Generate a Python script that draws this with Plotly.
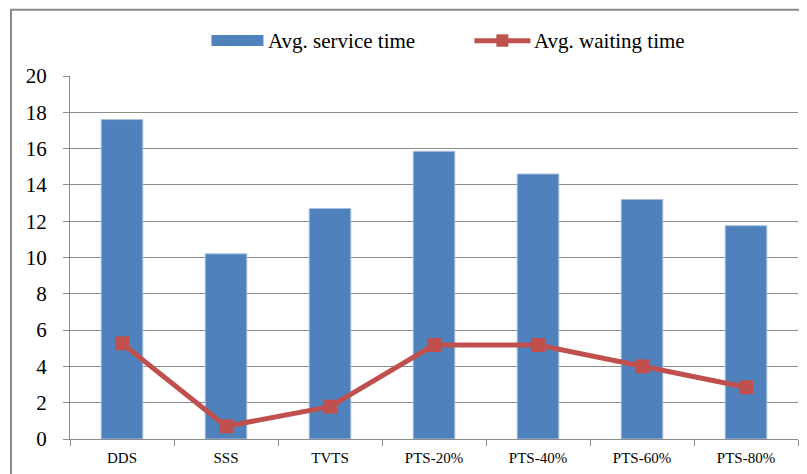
import plotly.graph_objects as go

categories = ["DDS", "SSS", "TVTS", "PTS-20%", "PTS-40%", "PTS-60%", "PTS-80%"]
service_time = [17.6, 10.2, 12.7, 15.85, 14.6, 13.2, 11.75]
waiting_time = [5.27, 0.7, 1.78, 5.18, 5.18, 4.0, 2.85]
y_ticks = list(range(0, 21, 2))

BLUE = "#4F81BD"
RED = "#C0504D"
GRID = "#8C8C8C"
FONT = "Times New Roman, Liberation Serif, DejaVu Serif, serif"

OFF = 8  # page body margin in the browser
W, H = 807 - OFF, 474 - OFF
# plot area in reference-screen pixels
X0, X1, Y0, Y1 = 69.5, 797.7, 76.0, 439.3
L, R, T, B = X0 - OFF, 807 - X1, Y0 - OFF, 474 - Y1
pw, ph = X1 - X0, Y1 - Y0

def px(x):
    return (x - X0) / pw

def py(y):
    return (Y1 - y) / ph

fig = go.Figure()
fig.add_trace(go.Bar(
    x=categories, y=service_time, name="Avg. service time",
    marker=dict(color=BLUE, line=dict(color="#A7BFDE", width=1)),
    width=0.4, showlegend=False,
))
fig.add_trace(go.Scatter(
    x=categories, y=waiting_time, name="Avg. waiting time",
    mode="lines+markers",
    line=dict(color=RED, width=5),
    marker=dict(symbol="square", size=14, color=RED),
    showlegend=False,
))

shapes = [
    # outer chart frame
    dict(type="rect", xref="paper", yref="paper",
         x0=px(10.5), x1=px(830), y0=py(500), y1=py(9.8),
         line=dict(color="#8A8A8A", width=2), fillcolor="rgba(0,0,0,0)", layer="below"),
    # legend: bar swatch
    dict(type="rect", xref="paper", yref="paper",
         x0=px(211), x1=px(263), y0=py(46), y1=py(35),
         line=dict(width=0), fillcolor=BLUE),
    # legend: line swatch
    dict(type="line", xref="paper", yref="paper",
         x0=px(474), x1=px(530), y0=py(40.7), y1=py(40.7),
         line=dict(color=RED, width=5)),
    dict(type="rect", xref="paper", yref="paper",
         x0=px(496), x1=px(508), y0=py(46.7), y1=py(34.3),
         line=dict(width=0), fillcolor=RED),
]

annotations = [
    dict(text="Avg. service time", xref="paper", yref="paper",
         x=px(266), y=py(40.5), xanchor="left", yanchor="middle",
         showarrow=False, font=dict(family=FONT, size=21, color="#000")),
    dict(text="Avg. waiting time", xref="paper", yref="paper",
         x=px(532), y=py(40.5), xanchor="left", yanchor="middle",
         showarrow=False, font=dict(family=FONT, size=21, color="#000")),
    dict(text="(a)", xref="paper", yref="paper",
         x=px(326), y=py(8), xanchor="center", yanchor="bottom",
         showarrow=False, font=dict(family=FONT, size=19, color="#000")),
]

fig.update_layout(
    width=W, height=H,
    margin=dict(l=L, r=R, t=T, b=B, autoexpand=False),
    paper_bgcolor="white", plot_bgcolor="white",
    font=dict(family=FONT, color="#000"),
    shapes=shapes, annotations=annotations,
)
fig.update_yaxes(
    range=[0, 20], tickvals=y_ticks, ticktext=[str(v) for v in y_ticks],
    showgrid=True, gridcolor=GRID, gridwidth=1.3,
    showline=True, linecolor=GRID, linewidth=1.3,
    ticks="outside", ticklen=6, tickcolor=GRID, tickwidth=1.3,
    tickfont=dict(family=FONT, size=21, color="#000"),
    ticklabelstandoff=12, zeroline=False,
)
fig.update_xaxes(
    showline=True, linecolor=GRID, linewidth=1.3,
    ticks="outside", ticklen=6, tickcolor=GRID, tickwidth=1.3,
    tickson="boundaries",
    tickfont=dict(family=FONT, size=15, color="#000"),
    ticklabelstandoff=5,
    range=[-0.5, 6.5],
)

fig.write_html("out.html")
